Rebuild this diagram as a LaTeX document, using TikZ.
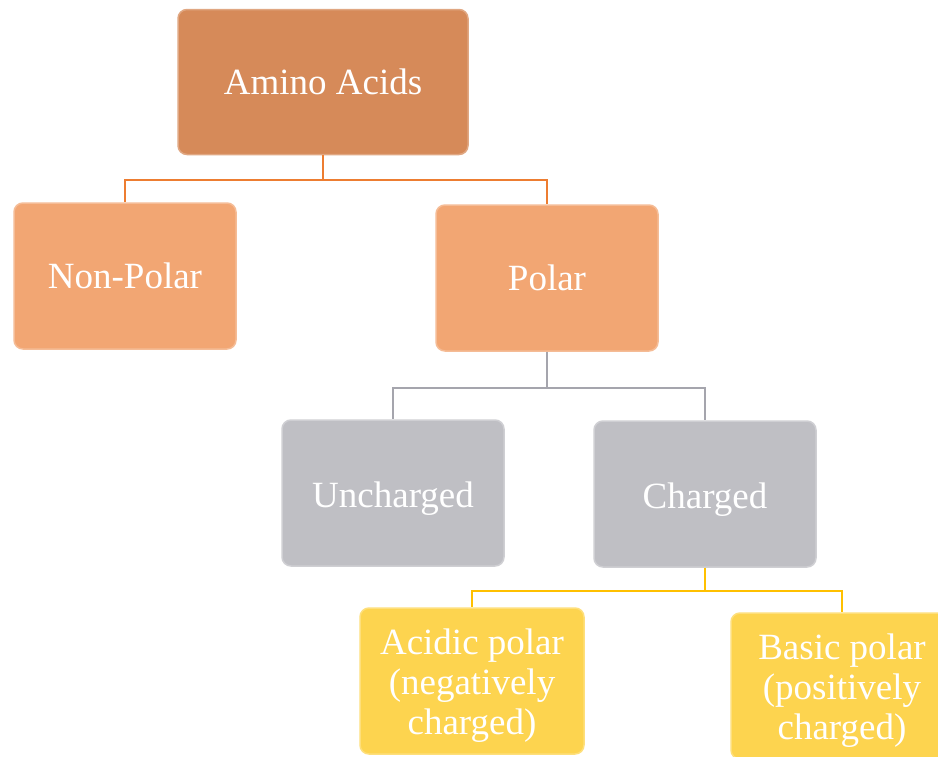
\documentclass[tikz,border=0pt]{standalone}
\usepackage{fontspec}
\setmainfont{Liberation Serif}

\definecolor{topfill}{HTML}{D68A59}
\definecolor{orangefill}{HTML}{F2A673}
\definecolor{grayfill}{HTML}{BFBFC4}
\definecolor{yellowfill}{HTML}{FDD44F}
\definecolor{orangeline}{HTML}{ED7D31}
\definecolor{grayline}{HTML}{A5A5AD}
\definecolor{yellowline}{HTML}{FFC000}

\begin{document}
\begin{tikzpicture}[x=1pt, y=-1pt,
  box/.style={shape=rectangle, rounded corners=9pt, minimum width=222pt, minimum height=146pt,
    text=white, font=\fontsize{37}{40}\selectfont, align=center, line width=1.5pt, inner sep=2pt},
  link/.style={line width=2.2pt}]
\useasboundingbox (0,0) rectangle (938,756);
\node[box, fill=topfill, draw=topfill!75!white, minimum width=290pt, minimum height=145pt] (amino) at (323, 82) {Amino Acids};
\node[box, fill=orangefill, draw=orangefill!75!white] (nonpolar) at (125, 276) {Non-Polar};
\node[box, fill=orangefill, draw=orangefill!75!white] (polar) at (547, 278) {Polar};
\node[box, fill=grayfill, draw=grayfill!75!white] (uncharged) at (393, 493) {\rule{0pt}{36pt}Uncharged};
\node[box, fill=grayfill, draw=grayfill!75!white] (charged) at (705, 494) {\rule{0pt}{36pt}Charged};
\node[box, fill=yellowfill, draw=yellowfill!75!white, minimum width=224pt] (acidic) at (472, 681) {\rule{0pt}{35pt}Acidic polar\\(negatively\\charged)};
\node[box, fill=yellowfill, draw=yellowfill!75!white] (basic) at (842, 686) {\rule{0pt}{35pt}Basic polar\\(positively\\charged)};
\draw[link, draw=orangeline] (amino.south) -- ++(0,25) -| (nonpolar.north);
\draw[link, draw=orangeline] (amino.south) -- ++(0,25) -| (polar.north);
\draw[link, draw=grayline] (polar.south) -- ++(0,36) -| (uncharged.north);
\draw[link, draw=grayline] (polar.south) -- ++(0,36) -| (charged.north);
\draw[link, draw=yellowline] (charged.south) -- ++(0,23) -| (acidic.north);
\draw[link, draw=yellowline] (charged.south) -- ++(0,23) -| (basic.north);
\end{tikzpicture}
\end{document}
